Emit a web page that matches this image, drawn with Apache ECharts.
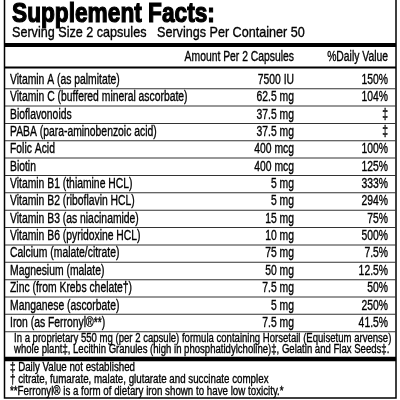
<!DOCTYPE html><html><head><meta charset="utf-8"><script src="https://cdn.jsdelivr.net/npm/echarts@6/dist/echarts.min.js"></script>
<style>html,body{margin:0;background:#fff}#c{width:400px;height:400px}</style></head><body><div id="c"></div><script>
const title = "Supplement Facts:";
const serving = "Serving Size 2 capsules   Servings Per Container 50";
const headers = ["Amount Per 2 Capsules", "%Daily Value"];
const nutrients = ["Vitamin A (as palmitate)","Vitamin C (buffered mineral ascorbate)","Bioflavonoids","PABA (para-aminobenzoic acid)","Folic Acid","Biotin","Vitamin B1 (thiamine HCL)","Vitamin B2 (riboflavin HCL)","Vitamin B3 (as niacinamide)","Vitamin B6 (pyridoxine HCL)","Calcium (malate/citrate)","Magnesium (malate)","Zinc (from Krebs chelate\u2020)","Manganese (ascorbate)","Iron (as Ferronyl\u00ae**)"];
const amounts = ["7500 IU","62.5 mg","37.5 mg","37.5 mg","400 mcg","400 mcg","5 mg","5 mg","15 mg","10 mg","75 mg","50 mg","7.5 mg","5 mg","7.5 mg"];
const dailyValues = ["150%","104%","\u2021","\u2021","100%","125%","333%","294%","75%","500%","7.5%","12.5%","50%","250%","41.5%"];
const proprietary = ["In a proprietary 550 mg (per 2 capsule) formula containing Horsetail (Equisetum arvense)","whole plant\u2021, Lecithin Granules (high in phosphatidylcholine)\u2021, Gelatin and Flax Seeds\u2021."];
const footnotes = ["\u2021 Daily Value not established","\u2020 citrate, fumarate, malate, glutarate and succinate complex","**Ferronyl\u00ae is a form of dietary iron shown to have low toxicity.*"];

const F = "Liberation Sans, Arial, sans-serif";
const SX = 0.74;
function txt(s, x, y, size, align, weight, sx, sw) {
  return {type:'text', x:x, y:y, scaleX: sx||SX, style:{text:s, fill:'#000', stroke:'#000', lineWidth: sw==null?0.35:sw, font:(weight||'normal')+' '+size+'px '+F, textAlign:align||'left', textVerticalAlign:'middle'}};
}
function hline(y, w) { return {type:'rect', shape:{x:5, y:y - w/2, width:391, height:w}, style:{fill:'#000'}}; }
const els = [];
els.push({type:'rect', shape:{x:4.5, y:-2, width:391.5, height:400}, style:{fill:'none', stroke:'#000', lineWidth:1.5}});
els.push(txt(title, 12, 15, 27, 'left', 'bold', 0.84, 1.2));
els.push(txt(serving, 12, 33, 15, 'left', 'normal', 0.84));
els.push(hline(45, 4));
els.push(txt(headers[0], 294, 57, 14, 'right'));
els.push(txt(headers[1], 388, 57, 14, 'right'));
els.push(hline(67.5, 2));
const y0 = 80, dy = 17.36;
nutrients.forEach((n, i) => {
  const y = y0 + i * dy;
  els.push(txt(n, 10, y, 14, 'left'));
  els.push(txt(amounts[i], 294, y, 14, 'right'));
  els.push(txt(dailyValues[i], 388, y, 14, 'right'));
  els.push({type:'rect', shape:{x:5, y:y + dy/2 - 0.5, width:391, height:1}, style:{fill:'#333'}});
});
proprietary.forEach((p, i) => els.push(txt(p, 14, 339 + i * 10.5, 12.5, 'left', 'normal', 0.765)));
els.push(hline(359, 4.5));
footnotes.forEach((p, i) => els.push(txt(p, 10, 368 + i * 11.7, 12.5, 'left', 'normal', 0.78)));
const chart = echarts.init(document.getElementById('c'));
chart.setOption({backgroundColor:'#fff', graphic:{elements:els}});
</script></body></html>
